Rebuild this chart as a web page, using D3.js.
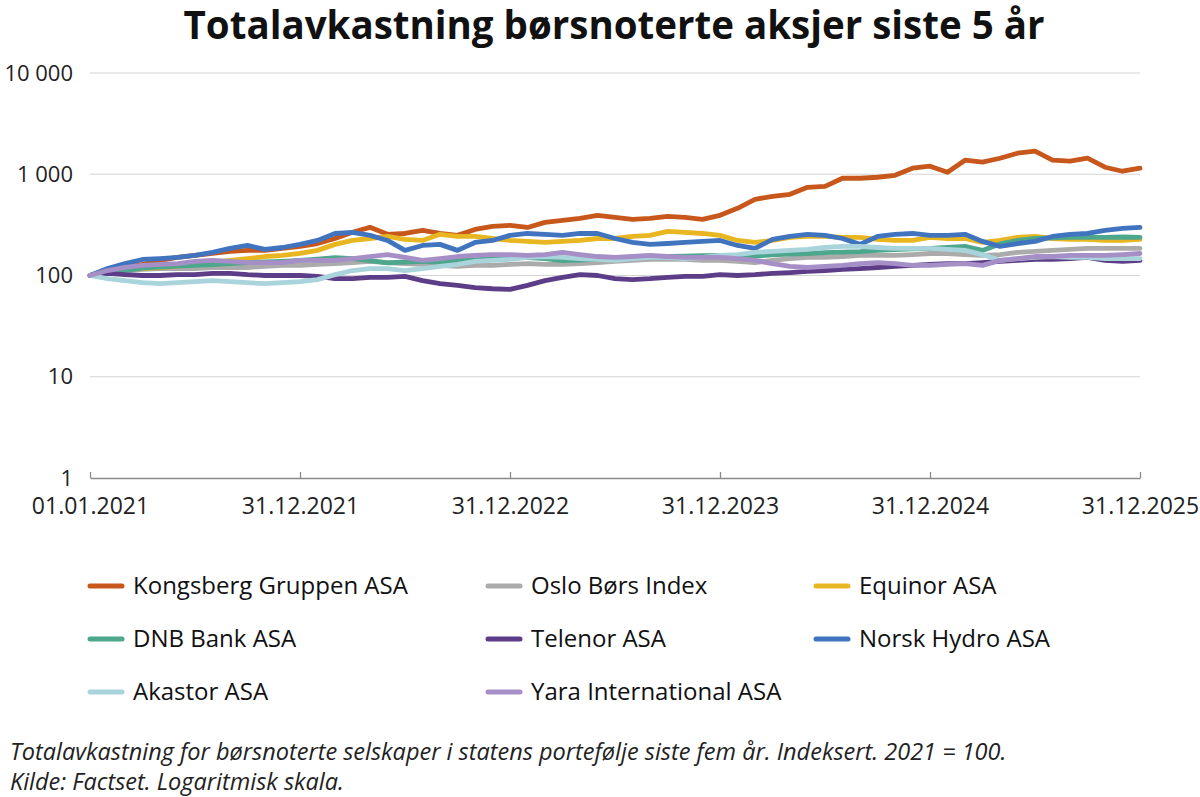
<!DOCTYPE html>
<html>
<head>
<meta charset="utf-8">
<script src="https://cdn.jsdelivr.net/npm/d3@7"></script>
<style>
  html, body { margin: 0; padding: 0; background: #fff; }
  svg { display: block; font-family: "Open Sans", sans-serif; }
</style>
</head>
<body>
<svg id="chart" width="1200" height="797"></svg>
<script>
// ---- data (index, 01.01.2021 = 100), monthly observations ----
const xTickLabels = ["01.01.2021", "31.12.2021", "31.12.2022", "31.12.2023", "31.12.2024", "31.12.2025"];
const xTickMonths = [0, 12, 24, 36, 48, 60];
const yTickValues = [1, 10, 100, 1000, 10000];
const yTickLabels = ["1", "10", "100", "1 000", "10 000"];

const seriesNames = ["Kongsberg Gruppen ASA", "Oslo Børs Index", "Equinor ASA", "DNB Bank ASA",
                     "Telenor ASA", "Norsk Hydro ASA", "Akastor ASA", "Yara International ASA"];
const seriesColors = ["#C8571C", "#ABABAB", "#E8B621", "#4DA78C", "#5D3D87", "#4174BF", "#A9D4DB", "#A68EC7"];

const kongsberg = [100,112,120,129,141,151,158,165,173,177,177,185,194,207,232,267,299,255,260,279,260,249,285,306,313,
  298,335,350,367,393,375,358,367,384,375,358,393,461,566,606,634,743,760,913,913,934,977,1147,1200,1047,1376,1315,1440,1614,1690,1376,1345,1440,1173,1071,1147];
const osloBors = [100,110,112,115,117,117,117,120,120,120,123,126,126,129,131,134,138,134,131,129,126,123,126,126,129,
  131,129,129,131,134,138,141,144,144,144,141,141,138,134,141,147,151,151,154,158,158,158,161,165,165,161,158,161,169,173,177,181,185,185,185,185];
const equinor = [100,115,115,117,120,123,131,134,141,147,154,158,165,177,203,222,232,243,227,222,255,243,243,232,222,
  217,212,217,222,232,232,243,249,273,267,260,249,222,212,222,238,243,243,238,238,227,222,222,238,232,232,212,222,238,243,232,227,227,222,222,227];
const dnb = [100,106,112,118,121,124,126,128,131,134,136,138,141,145,150,147,140,133,136,138,135,140,143,147,150,
  150,147,140,142,145,147,150,151,154,155,157,158,156,155,160,163,165,168,170,172,177,180,183,185,189,194,177,205,222,232,235,238,238,238,240,238];
const telenor = [100,105,102,100,100,102,102,105,105,102,100,100,100,98,93,93,96,96,98,89,83,80,76,74,73,
  80,89,96,102,100,93,91,93,96,98,98,102,100,102,105,107,110,112,115,117,120,123,126,129,131,131,134,138,141,144,144,147,151,141,138,141];
const hydro = [100,117,131,144,147,151,158,169,185,198,181,189,203,222,260,267,249,222,177,198,203,177,212,222,249,
  260,255,249,260,260,232,212,203,207,212,217,222,198,185,227,243,255,249,232,203,243,255,260,249,249,255,217,194,207,217,243,255,260,279,292,299];
const akastor = [100,93,89,85,83,85,87,89,87,85,83,85,87,91,102,112,117,117,112,117,123,129,138,141,144,
  151,154,151,147,144,141,147,151,151,147,151,158,161,169,173,177,181,189,194,194,189,185,185,185,181,177,161,141,147,151,154,151,151,147,147,147];
const yara = [100,112,120,126,129,131,138,141,138,134,134,134,141,141,141,147,154,161,151,141,147,154,158,161,161,
  158,161,169,161,154,151,154,158,154,151,151,151,147,141,131,123,120,123,126,131,134,131,126,126,129,131,126,141,147,154,154,158,158,158,161,165];

const seriesValues = [kongsberg, osloBors, equinor, dnb, telenor, hydro, akastor, yara];

const titleText = "Totalavkastning børsnoterte aksjer siste 5 år";
const noteLines = ["Totalavkastning for børsnoterte selskaper i statens portefølje siste fem år. Indeksert. 2021 = 100.",
                   "Kilde: Factset. Logaritmisk skala."];

// ---- drawing ----
const svg = d3.select("#chart");
const plot = { left: 90, right: 1140, top: 73, bottom: 478 };

const x = d3.scaleLinear().domain([0, 60]).range([plot.left, plot.right]);
const y = d3.scaleLog().domain([1, 10000]).range([plot.bottom, plot.top]);

// title
svg.append("text")
  .attr("x", 614).attr("y", 39)
  .attr("text-anchor", "middle")
  .attr("font-size", 38.5).attr("font-weight", 700)
  .attr("fill", "#111")
  .text(titleText);

// gridlines
svg.append("g")
  .selectAll("line")
  .data(yTickValues.filter(v => v > 1))
  .join("line")
  .attr("x1", plot.left).attr("x2", plot.right)
  .attr("y1", d => y(d)).attr("y2", d => y(d))
  .attr("stroke", "#d4d4d4").attr("stroke-width", 1.2);

// y axis labels
const yAxis = d3.axisLeft(y).tickValues(yTickValues)
  .tickFormat((d, i) => yTickLabels[i]).tickSize(0).tickPadding(17);
const gy = svg.append("g").attr("transform", `translate(${plot.left},0)`).call(yAxis);
gy.select(".domain").remove();
gy.selectAll("text").attr("font-size", 22).attr("fill", "#222").attr("font-family", "Open Sans");

// x axis
const xAxis = d3.axisBottom(x).tickValues(xTickMonths)
  .tickFormat((d, i) => xTickLabels[i]).tickSizeInner(-6).tickSizeOuter(0).tickPadding(20);
const gx = svg.append("g").attr("transform", `translate(0,${plot.bottom})`).call(xAxis);
gx.select(".domain").attr("stroke", "#8a8a8a").attr("stroke-width", 1.3);
gx.selectAll(".tick line").attr("stroke", "#8a8a8a").attr("stroke-width", 1.3);
gx.selectAll("text").attr("font-size", 23).attr("fill", "#222").attr("font-family", "Open Sans");

// lines
const line = d3.line().x((d, i) => x(i)).y(d => y(d));
svg.append("g")
  .selectAll("path")
  .data(seriesValues)
  .join("path")
  .attr("d", d => line(d))
  .attr("fill", "none")
  .attr("stroke", (d, i) => seriesColors[i])
  .attr("stroke-width", 4.8)
  .attr("stroke-linejoin", "round")
  .attr("stroke-linecap", "round");

// legend
const legCols = [90, 488, 816];
const legRows = [586, 639, 692];
const leg = svg.append("g")
  .selectAll("g")
  .data(seriesNames)
  .join("g")
  .attr("transform", (d, i) => `translate(${legCols[i % 3]},${legRows[Math.floor(i / 3)]})`);
leg.append("line")
  .attr("x1", 0).attr("x2", 32).attr("y1", 0).attr("y2", 0)
  .attr("stroke", (d, i) => seriesColors[i]).attr("stroke-width", 5).attr("stroke-linecap", "round");
leg.append("text")
  .attr("x", 43).attr("y", 0).attr("dy", "0.35em")
  .attr("font-size", 24).attr("fill", "#111")
  .text(d => d);

// footnote
svg.append("g")
  .selectAll("text")
  .data(noteLines)
  .join("text")
  .attr("x", 10).attr("y", (d, i) => 760 + i * 30)
  .attr("font-size", 23.5).attr("font-style", "italic").attr("fill", "#222")
  .text(d => d);
</script>
</body>
</html>
